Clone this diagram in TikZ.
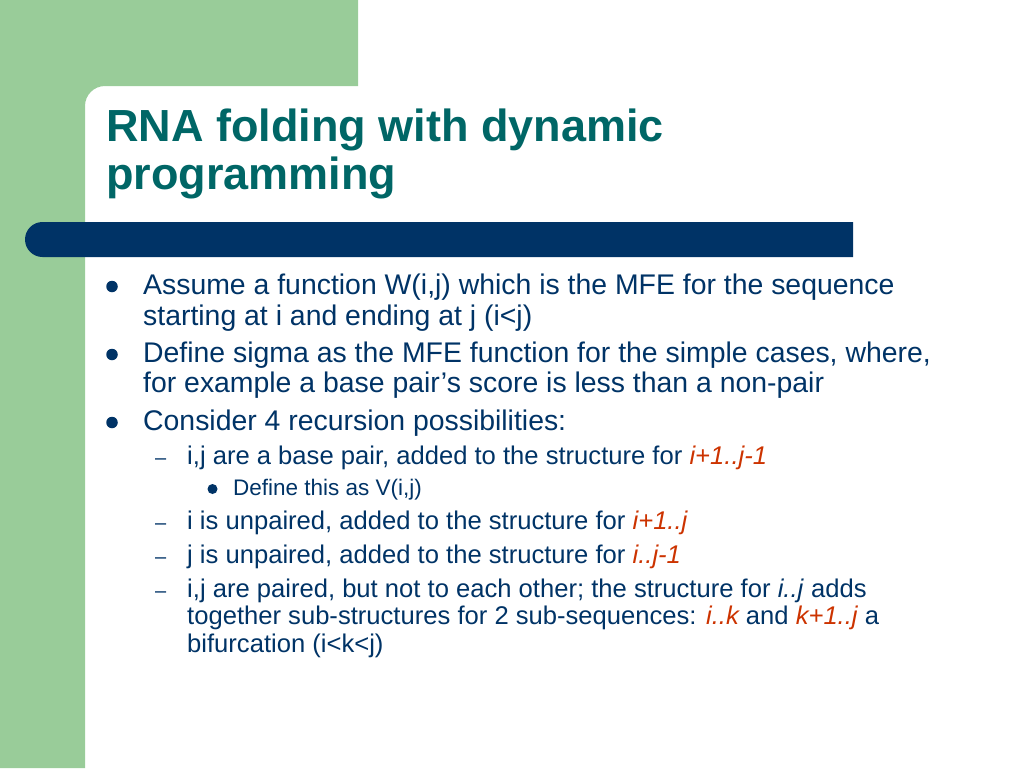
\documentclass[tikz,border=0pt]{standalone}
\usepackage{fontspec}
\setmainfont{Liberation Sans}
\definecolor{slidegreen}{RGB}{153,204,153}
\definecolor{titleteal}{RGB}{0,102,102}
\definecolor{barnavy}{RGB}{0,51,102}
\definecolor{bodynavy}{RGB}{0,51,102}
\definecolor{termred}{RGB}{204,51,0}
\newcommand{\term}[1]{\textcolor{termred}{\itshape #1}}
\begin{document}
\begin{tikzpicture}[x=1pt, y=-1pt,
      textline/.style ={anchor=base west, inner sep=0pt, text=bodynavy},
      heading/.style ={textline, text=titleteal, font=\fontsize{45}{48}\selectfont\bfseries},
      levelone/.style ={textline, font=\fontsize{28.4}{30}\selectfont},
      leveltwo/.style ={textline, font=\fontsize{25.6}{27}\selectfont},
      levelthree/.style ={textline, font=\fontsize{22.5}{24}\selectfont},
      dashmark/.style ={textline, font=\fontsize{20}{22}\selectfont},
      bigdot/.style ={circle, fill=bodynavy, inner sep=0pt, minimum size=11.5pt},
      smalldot/.style ={circle, fill=bodynavy, inner sep=0pt, minimum size=10pt}]
   \useasboundingbox (0,0) rectangle (1024,768);

   % background shapes
   \fill[slidegreen] (0,0) -- (358,0) -- (358,86) [rounded corners=20pt] -- (85,86) [sharp corners] -- (85,768) -- (0,768) -- cycle;
   \fill[barnavy] (853,222) [rounded corners=17.5pt] -- (25,222) -- (25,257) [sharp corners] -- (853,257) -- cycle;

   % title
   \node[heading] (T1) at (106,141) {RNA folding with dynamic};
   \node[heading] (T2) at (106,189) {programming};

   % first level
   \node[bigdot] (B1) at (112,286.5) {};
   \node[levelone] (L1a) at (143,294) {Assume a function W(i,j) which is the MFE for the sequence};
   \node[levelone] (L1b) at (143,325) {starting at i and ending at j (i<j)};
   \node[bigdot] (B2) at (112,354.5) {};
   \node[levelone] (L2a) at (143,362) {Define sigma as the MFE function for the simple cases, where,};
   \node[levelone] (L2b) at (143,392) {for example a base pair’s score is less than a non-pair};
   \node[bigdot] (B3) at (112,422.5) {};
   \node[levelone] (L3a) at (143,430) {Consider 4 recursion possibilities:};

   % second level
   \node[dashmark] (D1) at (155,464) {–};
   \node[leveltwo] (S1) at (187,464) {i,j are a base pair, added to the structure for \term{i+1..j-1}};
   \node[smalldot] (B4) at (212.5,489) {};
   \node[levelthree] (S1a) at (233,495) {Define this as V(i,j)};
   \node[dashmark] (D2) at (155,529) {–};
   \node[leveltwo] (S2) at (187,529) {i is unpaired, added to the structure for \term{i+1..j}};
   \node[dashmark] (D3) at (155,563) {–};
   \node[leveltwo] (S3) at (187,563) {j is unpaired, added to the structure for \term{i..j-1}};
   \node[dashmark] (D4) at (155,597) {–};
   \node[leveltwo] (S4a) at (187,597) {i,j are paired, but not to each other; the structure for \textit{i..j} adds};
   \node[leveltwo] (S4b) at (187,624) {together sub-structures for 2 sub-sequences: \term{i..k} and \term{k+1..j} a};
   \node[leveltwo] (S4c) at (187,652) {bifurcation (i<k<j)};
\end{tikzpicture}
\end{document}
